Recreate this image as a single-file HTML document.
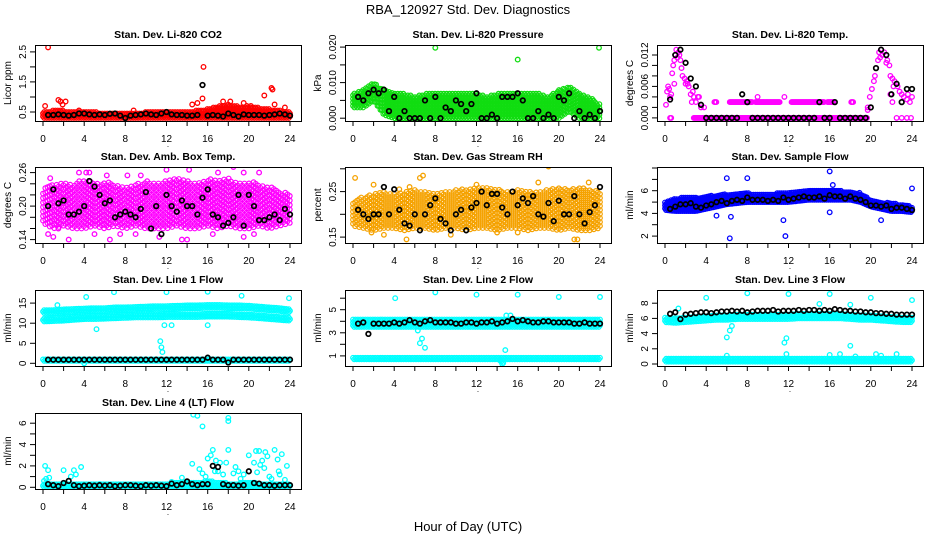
<!DOCTYPE html>
<html><head><meta charset="utf-8"><style>
html,body{margin:0;padding:0;background:#fff;}
svg{display:block;font-family:"Liberation Sans",Arial,sans-serif;}
</style></head><body>
<svg id="chart" width="936" height="540" viewBox="0 0 936 540" xmlns="http://www.w3.org/2000/svg">
<rect x="0" y="0" width="936" height="540" fill="#fff"/>
<text x="468" y="14" text-anchor="middle" font-size="13">RBA_120927  Std. Dev. Diagnostics</text>
<text x="468" y="531" text-anchor="middle" font-size="13">Hour of Day (UTC)</text>
</svg>
<script>
// ---- shared x ticks ----
const xTicks = [0,2,4,6,8,10,12,14,16,18,20,22,24];
const xTickLabels = ['0','','4','','8','','12','','16','','20','','24'];

// ---- CO2 ----
const co2BandLo = [0.3,0.3,0.3,0.3,0.3,0.3,0.3,0.3,0.3,0.3,0.3,0.3,0.3,0.3,0.3,0.3,0.3,0.3,0.3,0.3,0.3,0.3,0.3,0.3,0.3];
const co2BandHi = [0.5,0.55,0.55,0.5,0.5,0.5,0.48,0.48,0.48,0.48,0.5,0.5,0.5,0.5,0.52,0.55,0.6,0.7,0.75,0.7,0.65,0.65,0.6,0.55,0.5];
const co2Outliers = [[0.5,2.65],[0.2,0.7],[1.5,0.9],[1.7,0.85],[2.2,0.85],[1.9,0.75],[15.6,2.0],[15.5,0.95],[14.5,0.75],[15,0.8],[17.5,0.85],[18.2,0.85],[19.5,0.8],[21.5,1.05],[22.2,1.3],[22.3,1.25],[22.5,0.75],[23.5,0.65],[3.5,0.55],[8.8,0.55],[19.8,0.7],[20.2,0.7]];
const co2Black = [0.4,0.4,0.42,0.4,0.38,0.4,0.45,0.45, 0.42,0.4,0.42,0.4,0.44,0.45,0.38,0.3, 0.38,0.4,0.42,0.45,0.42,0.4,0.45,0.5, 0.42,0.4,0.4,0.38,0.38,0.4,1.4,0.38, 0.4,0.38,0.35,0.45,0.4,0.35,0.42,0.4, 0.4,0.4,0.38,0.4,0.42,0.45,0.42,0.38];
const co2YTicks = [0.5,1,1.5,2,2.5];
const co2YLabels = ['0.5','','1.5','','2.5'];

// ---- Pressure ----
const presBandLo = [0.003,0.003,0.005,0.001,0,0,0,0,0,0,0,0,0,0,0,0,0,0,0,0,0,0.002,0,0,0];
const presBandHi = [0.007,0.008,0.01,0.008,0.007,0.007,0.006,0.007,0.007,0.007,0.007,0.007,0.007,0.006,0.007,0.007,0.007,0.007,0.007,0.006,0.008,0.009,0.007,0.006,0.004];
const presOutliers = [[8,0.0198],[16,0.0165],[23.9,0.0198]];
const presBlack = [0.006,0.005,0.007,0.008,0.007,0.008,0.002,0.006, 0,0.002,0,0,0,0.005,0,0.006, 0,0.003,0.002,0.005,0.004,0.002,0.004,0.007, 0,0,0.001,0,0.006,0.006,0.006,0.007, 0.005,0,0,0.002,0,0.001,0,0.006, 0.005,0.007,0,0.002,0,0.001,0,0.002];
const presYTicks = [0,0.005,0.01,0.015,0.02];
const presYLabels = ['0.000','','0.010','','0.020'];

// ---- Li-820 Temp ----
const tempPoints = [[0.1,0.0025],[0.2,0.005],[0.3,0.006],[0.4,0.0055],[0.5,0.004],[0.6,0.0045],[0.5,0],[0.6,0],[0.7,0.0085],[0.8,0.01],[0.9,0.011],[1,0.012],[1.1,0.013],[1.3,0.0125],[1.5,0.011],[1.6,0.0095],[1.7,0.008],[1.9,0.0075],[2,0.0065],[2.2,0.0065],[2.3,0.006],[2.5,0.0045],[2.7,0.005],[2.8,0.004],[3,0.003],[3.2,0.004],[3.5,0.002],[3.8,0.002],[3.3,0.004],[0.9,0.0065],[1.2,0.0115],[1.4,0.012],[2.1,0.007],[2.6,0.003],[19.7,0.002],[19.9,0.004],[20.1,0.0055],[20.3,0.007],[20.4,0.008],[20.5,0.0095],[20.7,0.011],[20.8,0.0125],[21,0.013],[21.3,0.0125],[21.6,0.011],[21.8,0.01],[21.9,0.008],[22.1,0.0075],[22.3,0.007],[22.5,0.0065],[22.6,0.006],[22.8,0.005],[23,0.0045],[23.2,0.004],[23.5,0.0035],[23.8,0.003],[24,0.004],[21.9,0.0045],[22.1,0.003],[22.5,0],[23,0],[23.5,0],[23.6,0.0045],[23.9,0],[21.1,0.012],[20.9,0.0115],[21.5,0.0105],[22.2,0.006],[11.6,0.004],[9.0,0.004],[19.7,0.0015]];
const tempSegX0 = [2.8,4.8,6.3,8.8,12.3,15.8,18.1];
const tempSegX1 = [19.7,5.0,8.5,11.2,15.5,16.4,18.3];
const tempSegY = [0,0.003,0.003,0.003,0.003,0.003,0.003];
const tempBlack = [0.0035,0.012,0.013,0.0105,0.0075,0.006,0.0025,0, 0,0,0,0,0,0,0.0045,0.003, 0,0,0,0,0,0,0,0, 0,0,0,0,0,0.003,0,0, 0.003,0,0,0,0,0,0,0.002, 0.0095,0.013,0.012,0.0045,0.0065,0.003,0.0055,0.0055];
const tempYTicks = [0,0.002,0.004,0.006,0.008,0.01,0.012];
const tempYLabels = ['0.000','','','0.006','','','0.012'];

// ---- Amb box temp ----
const ambBandLo = [0.17,0.16,0.165,0.16,0.16,0.165,0.16,0.165,0.16,0.165,0.16,0.16,0.16,0.165,0.16,0.16,0.165,0.16,0.165,0.16,0.16,0.165,0.16,0.165,0.17];
const ambBandHi = [0.23,0.24,0.245,0.24,0.25,0.24,0.245,0.24,0.235,0.24,0.245,0.24,0.245,0.25,0.245,0.24,0.25,0.245,0.25,0.24,0.245,0.24,0.235,0.23,0.22];
const ambOutliers = [[0.5,0.15],[1,0.145],[1.5,0.16],[2.5,0.14],[5,0.15],[6.5,0.14],[7.5,0.15],[9,0.15],[11.3,0.145],[13.5,0.14],[14,0.14],[16.5,0.15],[19.5,0.145],[20.5,0.15],[0.7,0.25],[3.5,0.26],[4.2,0.26],[4.5,0.26],[6.2,0.255],[8.2,0.255],[9.5,0.255],[12,0.265],[14.2,0.265],[17,0.26],[18.5,0.27],[19.5,0.26],[21,0.26]];
const ambBlack = [0.2,0.23,0.205,0.21,0.185,0.185,0.19,0.2, 0.245,0.235,0.22,0.205,0.21,0.18,0.185,0.19, 0.185,0.18,0.195,0.225,0.16,0.2,0.15,0.22, 0.2,0.19,0.21,0.2,0.2,0.185,0.215,0.23, 0.185,0.18,0.165,0.17,0.18,0.22,0.165,0.22, 0.2,0.175,0.175,0.18,0.185,0.175,0.195,0.185];
const ambYTicks = [0.14,0.16,0.18,0.2,0.22,0.24,0.26];
const ambYLabels = ['0.14','','','0.20','','','0.26'];

// ---- Gas stream RH ----
const rhBandLo = [0.175,0.17,0.165,0.17,0.17,0.165,0.17,0.17,0.165,0.17,0.17,0.165,0.17,0.17,0.165,0.17,0.17,0.165,0.17,0.17,0.165,0.17,0.165,0.165,0.17];
const rhBandHi = [0.23,0.24,0.245,0.25,0.245,0.25,0.255,0.25,0.245,0.25,0.255,0.255,0.26,0.26,0.255,0.25,0.255,0.25,0.25,0.255,0.26,0.255,0.26,0.255,0.25];
const rhOutliers = [[0.2,0.28],[5.2,0.145],[6.5,0.28],[6.8,0.285],[4.5,0.255],[5.5,0.26],[19,0.305],[21.5,0.145],[21.8,0.145],[22.9,0.27],[18,0.27],[12,0.265],[2,0.265],[9.5,0.155],[16,0.16],[1.8,0.16],[3,0.155],[14,0.16]];
const rhBlack = [0.21,0.2,0.19,0.2,0.2,0.26,0.2,0.255, 0.21,0.18,0.175,0.2,0.165,0.2,0.22,0.235, 0.19,0.18,0.165,0.2,0.21,0.165,0.215,0.225, 0.25,0.22,0.245,0.245,0.215,0.2,0.25,0.22, 0.235,0.225,0.24,0.2,0.195,0.225,0.185,0.23, 0.2,0.2,0.24,0.2,0.18,0.205,0.22,0.26];
const rhYTicks = [0.15,0.2,0.25,0.3];
const rhYLabels = ['0.15','','0.25',''];

// ---- Sample flow ----
const sfBandLo = [4.3,4.2,4.2,4.2,4.4,4.6,4.8,4.9,5,5,5,5,5,5.1,5.2,5.2,5.2,5.2,5.2,5,4.6,4.4,4.2,4.2,4.1];
const sfBandHi = [5,5.3,5.5,5.4,5.5,5.6,5.7,5.8,5.8,5.7,5.7,5.8,5.9,6,6,6,6,6,5.9,5.8,5.2,5,4.9,4.8,4.6];
const sfOutliers = [[6,7.1],[8,7.1],[16,7.7],[16.3,6.5],[24,6.2],[6.3,1.8],[11.7,2.0],[11.5,3.4],[21,3.4],[16,4.1],[5,3.8],[6.4,3.7]];
const sfBlack = [4.4,4.6,4.8,4.8,4.9,4.6,4.5,4.7, 4.8,5.0,5.1,4.9,5.1,5.2,5.1,5.4, 5.2,5.2,5.2,5.1,5.2,5.1,5.4,5.2, 5.3,5.4,5.5,5.4,5.4,5.5,5.3,5.6, 5.5,5.5,5.3,5.5,5.3,5.2,5.0,4.7, 4.7,4.6,4.7,4.4,4.5,4.5,4.4,4.3];
const sfYTicks = [2,3,4,5,6,7,8];
const sfYLabels = ['2','','4','','6','',''];

// ---- Line 1 flow ----
const l1UpperLo = [12.5,12.5,12.7,12.8,12.9,13,13,13.2,13.2,13.3,13.4,13.5,13.5,13.6,13.7,13.7,13.8,13.8,13.7,13.7,13.6,13.4,13.2,13,12.7];
const l1UpperHi = [13.4,13.4,13.6,13.7,13.8,13.9,13.9,14.1,14.1,14.2,14.3,14.4,14.4,14.5,14.6,14.6,14.7,14.7,14.6,14.6,14.5,14.3,14.1,13.9,13.6];
const l1LowerLo = [10.4,10.5,10.6,10.8,11,11,11.1,11.2,11.3,11.4,11.4,11.4,11.5,11.5,11.5,11.5,11.6,11.6,11.6,11.5,11.4,11.2,11,10.8,10.6];
const l1LowerHi = [11.2,11.3,11.4,11.6,11.8,11.8,11.9,12,12.1,12.2,12.2,12.2,12.3,12.3,12.3,12.3,12.4,12.4,12.4,12.3,12.2,12,11.8,11.6,11.4];
const l1BaseLo = [0.6,0.6,0.6,0.6,0.6,0.6,0.6,0.6,0.6,0.6,0.6,0.6,0.6,0.6,0.6,0.6,0.6,0.6,0.6,0.6,0.6,0.6,0.6,0.6,0.6];
const l1BaseHi = [1.1,1.1,1.1,1.1,1.1,1.1,1.1,1.1,1.1,1.1,1.1,1.1,1.1,1.1,1.1,1.1,1.1,1.1,1.1,1.1,1.1,1.1,1.1,1.1,1.1];
const l1Outliers = [[4.2,16.5],[6.9,17.7],[12,17.7],[16,17.8],[19.3,16.8],[23.9,16.2],[1.4,14.5],[7.2,13],[5.2,8.5],[11.4,5.5],[11.5,4],[11.6,2.8],[11.8,9.5],[12.5,9.5],[16,9.5],[4,0]];
const l1Black = [0.9,0.9,0.9,0.9,0.9,0.9,0.9,0.9, 0.9,0.9,0.9,0.9,0.9,0.9,0.9,0.9, 0.9,0.9,0.9,0.9,0.9,0.9,0.9,0.9, 0.9,0.9,0.9,0.9,0.9,0.9,0.9,1.4, 0.9,0.9,0.9,0.2,0.9,0.9,0.9,0.9, 0.9,0.9,0.9,0.9,0.9,0.9,0.9,0.9];
const l1YTicks = [0,5,10,15];
const l1YLabels = ['0','5','10','15'];

// ---- Line 2 flow ----
const l2UpperLo = [3.5,3.5,3.5,3.5,3.5,3.5,3.5,3.5,3.5,3.5,3.5,3.5,3.5,3.5,3.5,3.5,3.5,3.5,3.5,3.5,3.5,3.5,3.5,3.5,3.5];
const l2UpperHi = [4.2,4.2,4.2,4.2,4.2,4.2,4.2,4.2,4.2,4.2,4.2,4.2,4.2,4.2,4.2,4.2,4.2,4.2,4.2,4.2,4.2,4.2,4.2,4.2,4.2];
const l2LowerLo = [0.7,0.7,0.7,0.7,0.7,0.7,0.7,0.7,0.7,0.7,0.7,0.7,0.7,0.7,0.7,0.7,0.7,0.7,0.7,0.7,0.7,0.7,0.7,0.7,0.7];
const l2LowerHi = [0.9,0.9,0.9,0.9,0.9,0.9,0.9,0.9,0.9,0.9,0.9,0.9,0.9,0.9,0.9,0.9,0.9,0.9,0.9,0.9,0.9,0.9,0.9,0.9,0.9];
const l2Outliers = [[4.1,6.0],[8,6.5],[12,6.3],[16,6.3],[20,6.1],[24,6.1],[14.9,4.5],[15.3,4.5],[6.5,2.1],[6.7,2.5],[7,1.7],[14.8,1.5],[6.3,3.2],[14.4,0.5],[14.5,0.3],[14.6,0.4],[14.3,0.6]];
const l2Black = [3.8,3.9,2.9,3.8,3.8,3.8,3.8,3.9, 3.8,3.9,4.1,3.9,3.8,4.0,4.1,3.9, 3.9,3.9,3.9,3.8,3.8,3.9,3.9,3.8, 3.9,3.9,4.0,3.8,3.9,4.0,4.2,4.0, 4.1,4.0,3.9,3.9,4.0,4.0,3.9,3.9, 3.9,3.9,3.8,3.8,3.9,3.8,3.8,3.8];
const l2YTicks = [1,2,3,4,5,6];
const l2YLabels = ['1','','3','','5',''];

// ---- Line 3 flow ----
const l3UpperLo = [5.5,5.4,5.5,5.6,5.7,5.8,5.8,5.9,5.9,5.9,5.9,5.9,5.9,6,6,6,6,6,5.9,5.8,5.8,5.7,5.6,5.5,5.5];
const l3UpperHi = [6.2,6.1,6.2,6.3,6.4,6.5,6.5,6.6,6.6,6.6,6.6,6.6,6.6,6.7,6.7,6.7,6.7,6.7,6.6,6.5,6.5,6.4,6.3,6.2,6.2];
const l3LowerLo = [0.3,0.3,0.3,0.3,0.3,0.3,0.3,0.3,0.3,0.3,0.3,0.3,0.3,0.3,0.3,0.3,0.3,0.3,0.3,0.3,0.3,0.3,0.3,0.3,0.3];
const l3LowerHi = [0.7,0.7,0.7,0.7,0.7,0.7,0.7,0.7,0.7,0.7,0.7,0.7,0.7,0.7,0.7,0.7,0.7,0.7,0.7,0.7,0.7,0.7,0.7,0.7,0.7];
const l3Outliers = [[4,8.7],[8,9.3],[12,9.2],[16,9.2],[20,8.7],[24,8.4],[6.5,5],[6.3,4.4],[6,3.5],[11.6,2.8],[11.8,3.4],[18,2.4],[1.3,7.3],[15,7.9],[18,7.8],[6,1.1],[11.8,1.3],[16,1.2],[17,1.3],[18.5,1.0],[20.5,1.3],[21,1.1],[22.5,1.3]];
const l3Black = [6.6,6.8,5.9,6.5,6.6,6.7,6.8,6.8, 6.7,6.8,6.9,6.9,7.0,6.9,7.0,6.8, 6.9,7.0,7.0,7.0,7.1,6.9,7.0,7.0, 7.0,7.1,7.0,7.1,7.1,7.0,7.1,7.0, 7.2,7.1,7.0,7.0,6.9,6.9,6.8,6.8, 6.7,6.7,6.6,6.6,6.5,6.5,6.5,6.5];
const l3YTicks = [0,2,4,6,8];
const l3YLabels = ['0','2','4','6','8'];

// ---- Line 4 flow ----
const l4BandLo = [0,0,0,0,0,0,0,0,0,0,0,0,0,0,0,0,0,0,0,0,0,0,0,0,0];
const l4BandHi = [0.3,0.3,0.3,0.3,0.3,0.3,0.3,0.3,0.3,0.3,0.3,0.3,0.3,0.5,0.5,0.5,0.6,0.5,0.4,0.4,0.5,0.4,0.4,0.4,0.3];
const l4Outliers = [[0.1,0.6],[0.2,2],[0.3,0.8],[0.5,1.6],[0.6,0.9],[2,1.6],[2.7,1],[3,1.6],[3.2,1.2],[3.7,1.9],[2.5,0.6],[5.5,0.3],[12.5,0.5],[13.5,0.9],[14.5,2.2],[14.6,6.8],[15,6.7],[15.5,5.7],[15.2,1.7],[15.5,1.3],[15.8,1],[16,2.7],[16.3,3],[16.5,3.5],[16.8,2.5],[17,1.5],[17.2,2.3],[17.5,1.2],[17.8,2.3],[18,3.5],[18,6.5],[18,6.2],[18.5,1.3],[18.7,1.9],[19,1.5],[19.5,1.2],[20,3],[20.5,2.3],[20.7,3.4],[21,3.4],[21.1,2.1],[21.3,2.5],[21.5,1.8],[21.6,3.3],[21.8,2.9],[22,1],[22.2,0.8],[22.5,3.5],[22.8,2.6],[22.9,1.5],[23,1.2],[23.2,3.1],[23.5,0.7],[23.7,2],[20.8,1.4],[16.7,1.5],[19.2,0.8]];
const l4Black = [0.3,0.2,0.1,0.4,0.6,0.2,0.1,0.15, 0.2,0.15,0.2,0.15,0.2,0.1,0.15,0.2, 0.2,0.15,0.1,0.2,0.15,0.2,0.15,0.1, 0.35,0.2,0.3,0.55,0.3,0.2,0.3,0.3, 2.0,1.9,0.3,0.2,0.2,0.15,0.2,1.5, 0.4,0.35,0.2,0.2,0.15,0.2,0.2,0.2];
const l4YTicks = [0,1,2,3,4,5,6];
const l4YLabels = ['0','','2','','4','','6'];

// ================= rendering =================
const NS = 'http://www.w3.org/2000/svg';
const svg = document.getElementById('chart');
function mk(tag, attrs, parent){
  const e = document.createElementNS(NS, tag);
  for (const k in attrs) e.setAttribute(k, attrs[k]);
  (parent||svg).appendChild(e);
  return e;
}
const colLeft = [35, 345, 657];
const rowTop = [45, 167, 290, 413];
const BOXW = 266, BOXH = 76;

function panel(cfg){
  const L = colLeft[cfg.col], T = rowTop[cfg.row], B = T + BOXH;
  const g = mk('g', {});
  
  
  const xs = h => L + 8 + h * 247 / 24;
  const ys = v => B - (v - cfg.ymin) / (cfg.ymax - cfg.ymin) * BOXH;
  const clip = 'clip-' + cfg.name;
  const cp = mk('clipPath', {id: clip}, g);
  mk('rect', {x: L, y: T, width: BOXW, height: BOXH}, cp);
  const pg = mk('g', {'clip-path': 'url(#' + clip + ')'}, g);
  const col = cfg.color;
  const hStep = cfg.hStep || 0.09, vStep = cfg.vStep || 2.6;
  function dot(h, v, c, parent, sw){
    return mk('circle', {cx: xs(h).toFixed(1), cy: ys(v).toFixed(1), r: 2.3, fill: 'none', stroke: c, 'stroke-width': sw || 1.3}, parent);
  }
  const series = mk('g', {}, pg);
  
  
  (cfg.bands || []).forEach(b => {
    let k = 0;
    for (let h = 0; h <= 24.001; h += hStep) {
      k++;
      const i = Math.min(23, Math.floor(h)), f = h - i;
      const lo = b[0][i] + (b[0][i+1] - b[0][i]) * f;
      const hi = b[1][i] + (b[1][i+1] - b[1][i]) * f;
      const pl = ys(lo), ph = ys(hi);
      const off = (k % 2) * vStep / 2;
      for (let p = pl - off; p >= ph - 0.1; p -= vStep) {
        mk('circle', {cx: xs(h).toFixed(1), cy: p.toFixed(1), r: 2.3, fill: 'none', stroke: col, 'stroke-width': 1.2}, series);
      }
    }
  });
  (cfg.segs || []).forEach(s => {
    for (let h = s[0]; h <= s[1] + 0.001; h += 0.09) dot(h, s[2], col, series);
  });
  (cfg.points || []).forEach(p => dot(p[0], p[1], col, series));
  const bg = mk('g', {}, pg);
  
  
  cfg.black.forEach((v, i) => dot(0.5 + 0.5 * i, v, '#000', bg, 1.7));
  mk('rect', {x: L + 0.5, y: T + 0.5, width: BOXW, height: BOXH, fill: 'none', stroke: '#000', 'stroke-width': 1}, g);
  const xa = mk('g', {}, g);
  
  
  xTicks.forEach((t, i) => {
    mk('line', {x1: xs(t).toFixed(1), x2: xs(t).toFixed(1), y1: B, y2: B + 5, stroke: '#000'}, xa);
    if (xTickLabels[i]) {
      const tx = mk('text', {x: xs(t).toFixed(1), y: B + 21, 'text-anchor': 'middle', 'font-size': 10}, xa);
      tx.textContent = xTickLabels[i];
    }
  });
  const dotlab = mk('text', {x: L + BOXW / 2, y: B + 26, 'text-anchor': 'middle', 'font-size': 8}, xa);
  dotlab.textContent = '.';
  const ya = mk('g', {}, g);
  
  
  const yt = cfg.yTicks;
  yt.forEach((t, i) => {
    const y = ys(t);
    if (y < T - 1 || y > B + 1) return;
    mk('line', {x1: L - 5, x2: L, y1: y.toFixed(1), y2: y.toFixed(1), stroke: '#000'}, ya);
    if (cfg.yLabels[i]) {
      const tx = mk('text', {x: 0, y: 0, 'text-anchor': 'middle', 'font-size': 10, transform: 'translate(' + (L - 9) + ',' + y.toFixed(1) + ') rotate(-90)'}, ya);
      tx.textContent = cfg.yLabels[i];
    }
  });
  const yl = mk('text', {x: 0, y: 0, 'text-anchor': 'middle', 'font-size': 10, transform: 'translate(' + (L - 24) + ',' + (T + BOXH / 2) + ') rotate(-90)'}, g);
  
  
  yl.textContent = cfg.ylab;
  const tt = mk('text', {x: L + BOXW / 2, y: T - 7, 'text-anchor': 'middle', 'font-size': 10.5, 'font-weight': 'bold'}, g);
  
  
  tt.textContent = cfg.title;
}

panel({name:'co2-panel', col:0, row:0, title:'Stan. Dev. Li-820 CO2', ylab:'Licor ppm', color:'#ff0000', ymin:0.2, ymax:2.73, yTicks:co2YTicks, yLabels:co2YLabels, bands:[[co2BandLo,co2BandHi]], points:co2Outliers, black:co2Black, hStep:0.12, vStep:3});
panel({name:'pressure-panel', col:1, row:0, title:'Stan. Dev. Li-820 Pressure', ylab:'kPa', color:'#11dd11', ymin:-0.0008, ymax:0.0206, yTicks:presYTicks, yLabels:presYLabels, bands:[[presBandLo,presBandHi]], points:presOutliers, black:presBlack, hStep:0.14, vStep:3.5});
panel({name:'li820-temp-panel', col:2, row:0, title:'Stan. Dev. Li-820 Temp.', ylab:'degrees C', color:'#ff00ff', ymin:-0.0006, ymax:0.0139, yTicks:tempYTicks, yLabels:tempYLabels, segs:tempSegX0.map((x,i)=>[x,tempSegX1[i],tempSegY[i]]), points:tempPoints, black:tempBlack});
panel({name:'amb-box-temp-panel', col:0, row:1, title:'Stan. Dev. Amb. Box Temp.', ylab:'degrees C', color:'#ff00ff', ymin:0.134, ymax:0.27, yTicks:ambYTicks, yLabels:ambYLabels, bands:[[ambBandLo,ambBandHi]], points:ambOutliers, black:ambBlack, hStep:0.22, vStep:4.5});
panel({name:'gas-rh-panel', col:1, row:1, title:'Stan. Dev. Gas Stream RH', ylab:'percent', color:'#f5a200', ymin:0.137, ymax:0.304, yTicks:rhYTicks, yLabels:rhYLabels, bands:[[rhBandLo,rhBandHi]], points:rhOutliers, black:rhBlack, hStep:0.2, vStep:4});
panel({name:'sample-flow-panel', col:2, row:1, title:'Stan. Dev. Sample Flow', ylab:'ml/min', color:'#0000ff', ymin:1.39, ymax:8.09, yTicks:sfYTicks, yLabels:sfYLabels, bands:[[sfBandLo,sfBandHi]], points:sfOutliers, black:sfBlack, hStep:0.1, vStep:3});
panel({name:'line1-flow-panel', col:0, row:2, title:'Stan. Dev. Line 1 Flow', ylab:'ml/min', color:'#00ffff', ymin:-0.66, ymax:18.25, yTicks:l1YTicks, yLabels:l1YLabels, bands:[[l1UpperLo,l1UpperHi],[l1LowerLo,l1LowerHi],[l1BaseLo,l1BaseHi]], points:l1Outliers, black:l1Black, hStep:0.12, vStep:3});
panel({name:'line2-flow-panel', col:1, row:2, title:'Stan. Dev. Line 2 Flow', ylab:'ml/min', color:'#00ffff', ymin:0.12, ymax:6.71, yTicks:l2YTicks, yLabels:l2YLabels, bands:[[l2UpperLo,l2UpperHi],[l2LowerLo,l2LowerHi]], points:l2Outliers, black:l2Black, hStep:0.12, vStep:3});
panel({name:'line3-flow-panel', col:2, row:2, title:'Stan. Dev. Line 3 Flow', ylab:'ml/min', color:'#00ffff', ymin:-0.26, ymax:9.73, yTicks:l3YTicks, yLabels:l3YLabels, bands:[[l3UpperLo,l3UpperHi],[l3LowerLo,l3LowerHi]], points:l3Outliers, black:l3Black, hStep:0.12, vStep:3});
panel({name:'line4-flow-panel', col:0, row:3, title:'Stan. Dev. Line 4 (LT) Flow', ylab:'ml/min', color:'#00ffff', ymin:-0.16, ymax:6.96, yTicks:l4YTicks, yLabels:l4YLabels, bands:[[l4BandLo,l4BandHi]], points:l4Outliers, black:l4Black, hStep:0.12, vStep:3});
</script>
</body></html>
